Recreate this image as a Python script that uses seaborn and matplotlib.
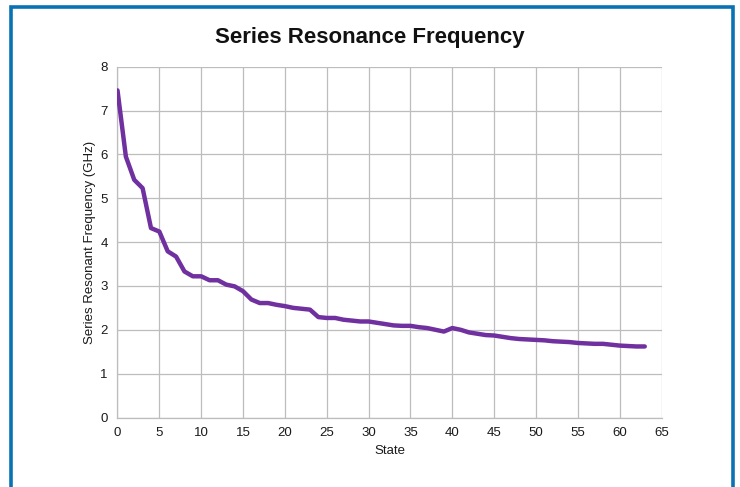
import matplotlib
matplotlib.use("Agg")
import matplotlib.pyplot as plt
import seaborn as sns
import pandas as pd
from matplotlib.patches import Rectangle

# values
state = list(range(64))
freq_ghz = [
    7.46, 5.95, 5.42, 5.23, 4.32, 4.24, 3.79, 3.67, 3.33, 3.22,
    3.22, 3.13, 3.13, 3.03, 2.99, 2.88, 2.69, 2.61, 2.61, 2.57,
    2.54, 2.50, 2.48, 2.46, 2.29, 2.27, 2.27, 2.23, 2.21, 2.19,
    2.19, 2.16, 2.13, 2.10, 2.09, 2.09, 2.06, 2.04, 2.00, 1.96,
    2.04, 2.00, 1.94, 1.91, 1.88, 1.87, 1.84, 1.81, 1.79, 1.78,
    1.77, 1.76, 1.74, 1.73, 1.72, 1.70, 1.69, 1.68, 1.68, 1.66,
    1.64, 1.63, 1.62, 1.62,
]
x_ticks = list(range(0, 66, 5))
y_ticks = list(range(0, 9))

df = pd.DataFrame({"State": state, "Frequency": freq_ghz})

sns.set_style("white")
plt.rcParams["font.family"] = ["Liberation Sans", "DejaVu Sans"]

fig = plt.figure(figsize=(7.4, 4.87), dpi=100)
ax = fig.add_axes([117.5 / 740, 1 - 417.5 / 487, (661.5 - 117.5) / 740, (417.5 - 66.7) / 487])

sns.lineplot(data=df, x="State", y="Frequency", color="#7030A0", linewidth=3.2,
             ax=ax, solid_joinstyle="round", solid_capstyle="round", zorder=3)

ax.set_xlim(0, 65)
ax.set_ylim(0, 8)
ax.set_xticks(x_ticks)
ax.set_yticks(y_ticks)
ax.grid(True, color="#BDBDBD", linewidth=0.9)
for side in ["top", "right"]:
    ax.spines[side].set_visible(False)
for side in ["left", "bottom"]:
    ax.spines[side].set_color("#BDBDBD")
    ax.spines[side].set_linewidth(0.9)
ax.tick_params(axis="both", direction="out", length=4, width=0.9, color="#BDBDBD",
               labelsize=9.5, labelcolor="#1a1a1a", pad=3)

ax.set_xlabel("State", fontsize=9.5, color="#1a1a1a", labelpad=4)
ax.set_ylabel("Series Resonant Frequency (GHz)", fontsize=9.5, color="#1a1a1a", labelpad=3)
fig.text(370 / 740, 1 - 37 / 487, "Series Resonance Frequency", ha="center", va="center",
         fontsize=16, fontweight="bold", color="#111111")

# blue frame around the chart (bottom edge lies outside the image)
fig.patches.append(Rectangle((11.3 / 740, -0.05), (732.5 - 11.3) / 740, 1.05 - 6.5 / 487,
                             transform=fig.transFigure, fill=False,
                             edgecolor="#0872B5", linewidth=2.6))

fig.savefig("out.png", dpi=100)
